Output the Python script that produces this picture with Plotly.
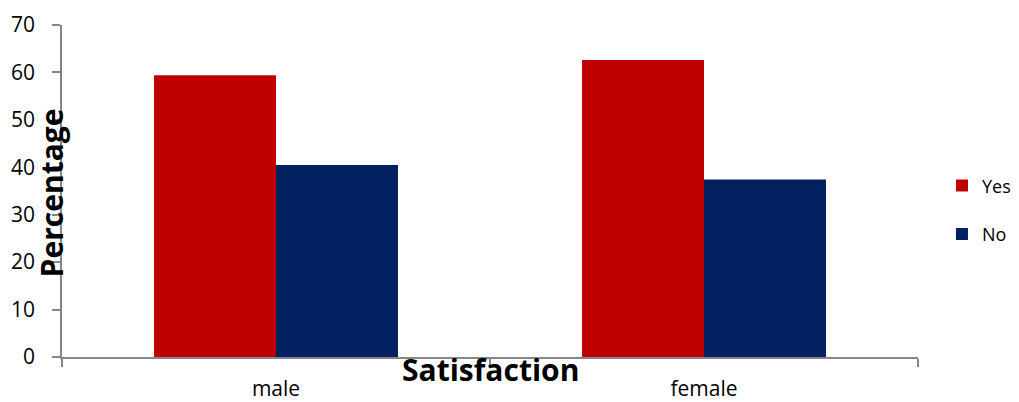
import plotly.graph_objects as go

categories = ["male", "female"]
yes_values = [59.4, 62.6]
no_values = [40.5, 37.4]
y_ticks = [0, 10, 20, 30, 40, 50, 60, 70]

FONT = "Open Sans"
AXIS_COLOR = "#868686"

fig = go.Figure()
fig.add_trace(go.Bar(name="Yes", x=categories, y=yes_values, legendgroup="yes",
                     marker=dict(color="#C00000", line=dict(width=0))))
fig.add_trace(go.Bar(name="No", x=categories, y=no_values, legendgroup="no",
                     marker=dict(color="#002060", line=dict(width=0))))

fig.update_layout(
    width=1019, height=402,
    margin=dict(l=54, r=109, t=17, b=53, autoexpand=False),
    paper_bgcolor="white", plot_bgcolor="white",
    barmode="group", bargap=0.43, bargroupgap=0,
    font=dict(family=FONT, size=18, color="black"),
    showlegend=True,
    legend=dict(x=1.028, y=0.443, xanchor="left", yanchor="middle",
                font=dict(family=FONT, size=18), itemwidth=30,
                traceorder="grouped", tracegroupgap=22),
    xaxis=dict(showline=True, linecolor=AXIS_COLOR, linewidth=1.5, automargin=False,
               ticks="outside", tickson="boundaries", ticklen=8, tickcolor=AXIS_COLOR, tickwidth=1.5,
               tickfont=dict(family=FONT, size=21), ticklabelstandoff=12,
               showgrid=False, zeroline=False),
    yaxis=dict(range=[0, 70], tickvals=y_ticks, showline=True, linecolor=AXIS_COLOR, linewidth=1.5,
               automargin=False,
               ticks="outside", ticklen=8, tickcolor=AXIS_COLOR, tickwidth=1.5,
               showgrid=False, zeroline=False,
               tickfont=dict(family=FONT, size=21), ticklabelstandoff=13),
    annotations=[
        dict(text="<b>Percentage</b>", xref="paper", yref="paper", x=-0.012, y=0.495,
             textangle=-90, showarrow=False, font=dict(family=FONT, size=30, color="black"),
             xanchor="center", yanchor="middle"),
        dict(text="<b>Satisfaction</b>", xref="paper", yref="paper", x=0.5, y=-0.039,
             showarrow=False, font=dict(family=FONT, size=30, color="black"),
             xanchor="center", yanchor="middle"),
    ],
)

fig.write_html("out.html")
